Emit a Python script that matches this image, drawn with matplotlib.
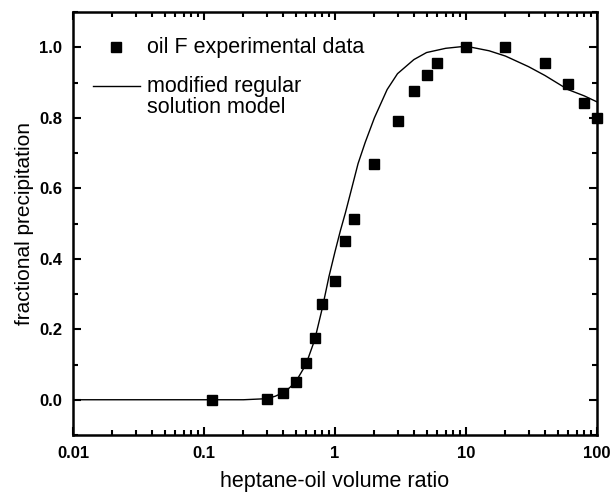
import matplotlib
matplotlib.use("Agg")
import matplotlib.pyplot as plt
import numpy as np
from matplotlib.ticker import FixedLocator, NullFormatter, MultipleLocator

plt.rcParams['font.family'] = ['Liberation Sans', 'DejaVu Sans']

# experimental points (oil F)
exp_ratio = [0.115, 0.3, 0.4, 0.5, 0.6, 0.7, 0.8, 1.0, 1.2, 1.4, 2.0,
             3.0, 4.0, 5.0, 6.0, 10.0, 20.0, 40.0, 60.0, 80.0, 100.0]
exp_frac = [0.0, 0.003, 0.02, 0.05, 0.104, 0.175, 0.273, 0.337, 0.45, 0.513, 0.669,
            0.79, 0.877, 0.92, 0.954, 1.0, 1.0, 0.955, 0.897, 0.843, 0.80]

# modified regular solution model curve
model_ratio = [0.01, 0.1, 0.2, 0.3, 0.35, 0.4, 0.45, 0.5, 0.6, 0.7, 0.8, 0.9, 1.0,
               1.1, 1.2, 1.3, 1.5, 1.7, 2.0, 2.5, 3.0, 4.0, 5.0, 7.0, 10.0, 15.0,
               20.0, 30.0, 40.0, 60.0, 80.0, 100.0]
model_frac = [0.0, 0.0, 0.0, 0.003, 0.01, 0.02, 0.034, 0.05, 0.10, 0.17, 0.26, 0.35, 0.42,
              0.48, 0.53, 0.58, 0.67, 0.73, 0.80, 0.88, 0.925, 0.965, 0.985, 0.997, 1.003, 0.99,
              0.975, 0.945, 0.92, 0.88, 0.862, 0.845]

fig = plt.figure(figsize=(6.14, 4.96), dpi=100)
ax = fig.add_axes([73/614, 61/496, 524/614, 423/496])

ax.plot(exp_ratio, exp_frac, 's', color='black', markersize=7,
        clip_on=False, zorder=3)
ax.plot(model_ratio, model_frac, '-', color='black', linewidth=1.0)

ax.set_xscale('log')
ax.set_xlim(0.01, 100)
ax.set_ylim(-0.1, 1.1)

ax.set_xticks([0.01, 0.1, 1, 10, 100])
ax.set_xticklabels(['0.01', '0.1', '1', '10', '100'])
minor = [m * 10.0**e for e in range(-2, 2) for m in range(2, 10)]
ax.xaxis.set_minor_locator(FixedLocator(minor))
ax.xaxis.set_minor_formatter(NullFormatter())
ax.set_yticks([0.0, 0.2, 0.4, 0.6, 0.8, 1.0])
ax.set_yticklabels(['0.0', '0.2', '0.4', '0.6', '0.8', '1.0'])
ax.yaxis.set_minor_locator(MultipleLocator(0.1))

ax.tick_params(which='both', direction='in', top=True, right=True, width=1.5)
ax.tick_params(which='major', length=6, labelsize=12, pad=8)
ax.tick_params(which='minor', length=3.5)
for lab in ax.get_xticklabels() + ax.get_yticklabels():
    lab.set_fontweight('bold')
for sp in ax.spines.values():
    sp.set_linewidth(1.8)

ax.set_xlabel('heptane-oil volume ratio', fontsize=15.5, labelpad=7)
ax.set_ylabel('fractional precipitation', fontsize=15)
ax.yaxis.set_label_coords(-0.074, 0.5)

# legend drawn by hand so the line sits on the first text row
tr = ax.transAxes
ax.plot([0.082], [0.917], 's', color='black', markersize=7, transform=tr)
ax.plot([0.038, 0.128], [0.825, 0.825], '-', color='black', linewidth=1.0, transform=tr)
ax.text(0.141, 0.917, 'oil F experimental data', fontsize=15.5, va='center', transform=tr)
ax.text(0.141, 0.825, 'modified regular', fontsize=15.5, va='center', transform=tr)
ax.text(0.141, 0.775, 'solution model', fontsize=15.5, va='center', transform=tr)

fig.savefig('out.png', dpi=100)
